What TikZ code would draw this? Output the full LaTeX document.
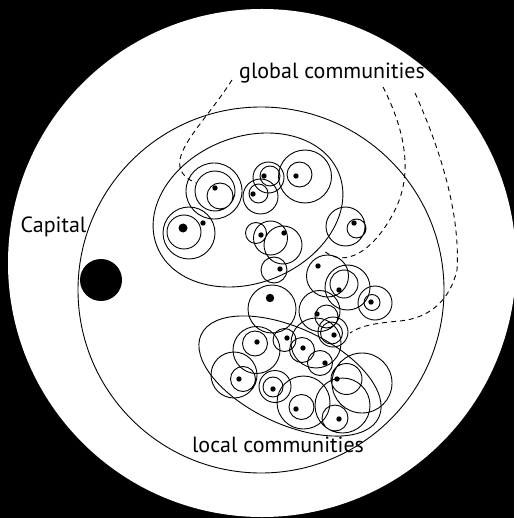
\documentclass[tikz,border=0pt]{standalone}
\usepackage{fontspec}
\setmainfont{PT Sans}
\usepackage{tikz}

\begin{document}
\begin{tikzpicture}[x=1pt, y=-1pt,
    ring/.style={line width=0.9pt},
    link/.style={line width=0.9pt, dash pattern=on 5pt off 4pt},
    tag/.style={font=\fontsize{22}{26}\selectfont, inner sep=0pt, anchor=base}]
    \fill[black] (0,0) rectangle (514,518);
    \fill[white] (262,263) circle (254);

    \draw[ring] (261,290) circle (183);
    \draw[ring, rotate around={22:(248,210)}] (248,210) ellipse [x radius=98, y radius=73];
    \draw[ring, rotate around={-25:(290,376)}] (290,376) ellipse [x radius=98, y radius=48];

    \fill (101,280) circle (21);

    \draw[ring] (214,191) circle (28) (215,191) circle (20) (220,196) circle (13);
    \draw[ring] (189,233) circle (26) (184,232) circle (17);
    \draw[ring] (268.5,177.5) circle (15.5) (270,176) circle (10);
    \draw[ring] (260.5,196.5) circle (17.5) (258.5,193.5) circle (9.5);
    \draw[ring] (305,176.5) circle (26.5) (299.5,174.5) circle (12.5);
    \draw[ring] (256,233) circle (10.5) (270.5,238) circle (17) (283,245) circle (19);
    \draw[ring] (274,270) circle (13);
    \draw[ring] (345.5,226.5) circle (19.5) (356.5,228.5) circle (9.5);

    \draw[ring] (272,309) circle (24);
    \draw[ring] (327.5,276) circle (21);
    \draw[ring] (347.5,287.5) circle (22.5) (344,284) circle (14);
    \draw[ring] (375,303) circle (17) (372,302.5) circle (8);
    \draw[ring] (319.5,311) circle (20.5) (326.5,316.5) circle (11.5);
    \draw[ring] (333,332) circle (15) (331.5,333) circle (11);

    \draw[ring] (256.5,350) circle (23.5) (255,343.5) circle (12.5);
    \draw[ring] (284.5,340) circle (11.5);
    \draw[ring] (316,343) circle (25);
    \draw[ring] (302,350) circle (12.5);
    \draw[ring] (320,363) circle (12.5);
    \draw[ring] (346.5,379) circle (15.5) (362,383) circle (30);
    \draw[ring] (243,379) circle (12.5) (234,375) circle (23);
    \draw[ring] (275,386.5) circle (16) (273,387) circle (10);
    \draw[ring] (303.5,402.5) circle (26.5) (301.5,407) circle (12.5);
    \draw[ring] (342.5,405.5) circle (27.5) (335,418) circle (13);

    \fill (183,228) circle (4.5);
    \fill (270,298) circle (4.2);
    \fill (215,188) circle (2.7);
    \fill (203,223) circle (2.7);
    \fill (264,176) circle (2.7);
    \fill (253,194) circle (2.7);
    \fill (296,176) circle (2.7);
    \fill (261,235) circle (2.7);
    \fill (284,233) circle (2.7);
    \fill (280,269) circle (2.7);
    \fill (354,223) circle (2.7);
    \fill (318,266) circle (2.7);
    \fill (339,290) circle (2.7);
    \fill (371,302) circle (2.7);
    \fill (317,314) circle (2.7);
    \fill (334,335) circle (2.7);
    \fill (257,342) circle (2.7);
    \fill (287,338) circle (2.7);
    \fill (303,348) circle (2.7);
    \fill (325,363) circle (2.7);
    \fill (337,379) circle (2.7);
    \fill (239,379) circle (2.7);
    \fill (273,389) circle (2.7);
    \fill (296,409) circle (2.7);
    \fill (339,419) circle (2.7);

    \draw[link] (232,80) .. controls (200,130) and (155,165) .. (196,183);
    \draw[link] (383,87) .. controls (410,140) and (410,180) .. (395,210)
        .. controls (375,250) and (345,270) .. (323,250);
    \draw[link] (415,93) .. controls (445,160) and (460,220) .. (457,270)
        .. controls (450,300) and (430,318) .. (400,321)
        .. controls (375,323) and (360,326) .. (350,333);

    \node[tag] (global) at (332,79) {global communities};
    \node[tag] (capital) at (53.5,233) {Capital};
    \node[tag] (local) at (278,452) {local communities};
\end{tikzpicture}
\end{document}
